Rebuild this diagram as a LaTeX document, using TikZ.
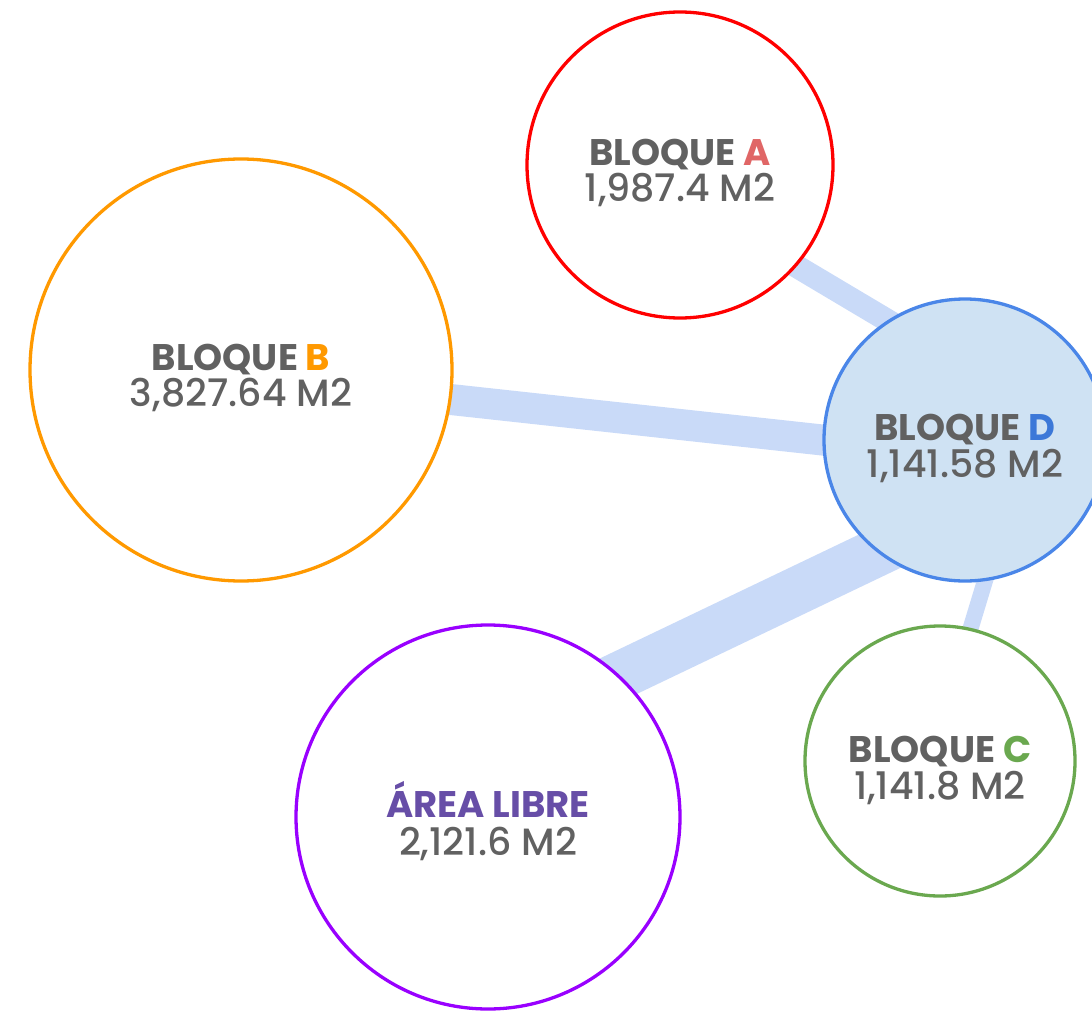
\documentclass[tikz,border=0pt]{standalone}
\usepackage{fontspec}
\setmainfont{Poppins}[UprightFont={* Medium}, BoldFont={* Bold}]
\usetikzlibrary{backgrounds}
\definecolor{txt}{HTML}{616161}
\definecolor{link}{HTML}{C9DAF8}
\definecolor{cAline}{HTML}{FF0000}
\definecolor{cAtxt}{HTML}{E06666}
\definecolor{cB}{HTML}{FF9900}
\definecolor{cC}{HTML}{6AA84F}
\definecolor{cDline}{HTML}{4A86E8}
\definecolor{cDtxt}{HTML}{3C78D8}
\definecolor{cDfill}{HTML}{CFE2F3}
\definecolor{cLline}{HTML}{9900FF}
\definecolor{cLtxt}{HTML}{674EA7}
\tikzset{
  bub/.style={circle, draw, line width=3.3pt, fill=white, inner sep=0pt, minimum size=#1},
  ttl/.style={anchor=base, inner sep=0pt, text=txt, font=\fontsize{37}{40}\selectfont\bfseries},
  num/.style={anchor=base, inner sep=0pt, text=txt, font=\fontsize{38}{40}\selectfont},
  lnk/.style={draw=link, line width=#1, shorten <=-15pt, shorten >=-15pt}
}
\begin{document}
\begin{tikzpicture}[x=1pt,y=-1pt]
\useasboundingbox (0,0) rectangle (1092,1011);
\clip (0,0) rectangle (1092,1011);
\node[bub=306, draw=cAline] (A) at (680,165) {};
\node[bub=422, draw=cB] (B) at (241,370) {};
\node[bub=282, draw=cDline, fill=cDfill] (D) at (965,440) {};
\node[bub=270, draw=cC] (C) at (940,761) {};
\node[bub=384, draw=cLline] (L) at (488,817) {};
\begin{scope}[on background layer]
  \draw[lnk=23pt] (A.-41.6) -- (D.123);
  \draw[lnk=31pt] (B.-8.4) -- (D.180);
  \draw[lnk=48pt] (L.47.5) -- (D.-128.4);
  \draw[lnk=16pt] (C.77.6) -- (D.-82.3);
\end{scope}
\node[ttl] (tA) at ([yshift=-1pt]A.center) {BLOQUE \textcolor{cAtxt}{A}};
\node[num] (nA) at ([yshift=-37pt]A.center) {1,987.4 M2};
\node[ttl] (tB) at (B.center) {BLOQUE \textcolor{cB}{B}};
\node[num] (nB) at ([yshift=-36pt]B.center) {3,827.64 M2};
\node[ttl] (tD) at (D.center) {BLOQUE \textcolor{cDtxt}{D}};
\node[num] (nD) at ([yshift=-37pt]D.center) {1,141.58 M2};
\node[ttl] (tC) at ([yshift=-1pt]C.center) {BLOQUE \textcolor{cC}{C}};
\node[num] (nC) at ([yshift=-38pt]C.center) {1,141.8 M2};
\node[ttl, text=cLtxt] (tL) at (L.center) {ÁREA LIBRE};
\node[num] (nL) at ([yshift=-38pt]L.center) {2,121.6 M2};
\end{tikzpicture}
\end{document}
